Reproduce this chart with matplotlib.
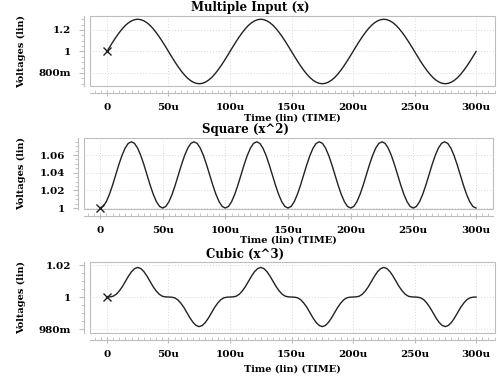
import matplotlib
matplotlib.use("Agg")
import matplotlib.pyplot as plt
from matplotlib.patches import Rectangle
from matplotlib.ticker import MultipleLocator, FixedLocator

# time samples in microseconds (every 2.5u)
time_us = [0, 2.5, 5, 7.5, 10, 12.5, 15, 17.5, 20, 22.5,
           25, 27.5, 30, 32.5, 35, 37.5, 40, 42.5, 45, 47.5,
           50, 52.5, 55, 57.5, 60, 62.5, 65, 67.5, 70, 72.5,
           75, 77.5, 80, 82.5, 85, 87.5, 90, 92.5, 95, 97.5,
           100, 102.5, 105, 107.5, 110, 112.5, 115, 117.5, 120, 122.5,
           125, 127.5, 130, 132.5, 135, 137.5, 140, 142.5, 145, 147.5,
           150, 152.5, 155, 157.5, 160, 162.5, 165, 167.5, 170, 172.5,
           175, 177.5, 180, 182.5, 185, 187.5, 190, 192.5, 195, 197.5,
           200, 202.5, 205, 207.5, 210, 212.5, 215, 217.5, 220, 222.5,
           225, 227.5, 230, 232.5, 235, 237.5, 240, 242.5, 245, 247.5,
           250, 252.5, 255, 257.5, 260, 262.5, 265, 267.5, 270, 272.5,
           275, 277.5, 280, 282.5, 285, 287.5, 290, 292.5, 295, 297.5,
           300]

# voltages
v_input = [1.000, 1.047, 1.093, 1.136, 1.176, 1.212, 1.243, 1.267, 1.285, 1.296,
           1.300, 1.296, 1.285, 1.267, 1.243, 1.212, 1.176, 1.136, 1.093, 1.047,
           1.000, 0.953, 0.907, 0.864, 0.824, 0.788, 0.757, 0.733, 0.715, 0.704,
           0.700, 0.704, 0.715, 0.733, 0.757, 0.788, 0.824, 0.864, 0.907, 0.953,
           1.000, 1.047, 1.093, 1.136, 1.176, 1.212, 1.243, 1.267, 1.285, 1.296,
           1.300, 1.296, 1.285, 1.267, 1.243, 1.212, 1.176, 1.136, 1.093, 1.047,
           1.000, 0.953, 0.907, 0.864, 0.824, 0.788, 0.757, 0.733, 0.715, 0.704,
           0.700, 0.704, 0.715, 0.733, 0.757, 0.788, 0.824, 0.864, 0.907, 0.953,
           1.000, 1.047, 1.093, 1.136, 1.176, 1.212, 1.243, 1.267, 1.285, 1.296,
           1.300, 1.296, 1.285, 1.267, 1.243, 1.212, 1.176, 1.136, 1.093, 1.047,
           1.000, 0.953, 0.907, 0.864, 0.824, 0.788, 0.757, 0.733, 0.715, 0.704,
           0.700, 0.704, 0.715, 0.733, 0.757, 0.788, 0.824, 0.864, 0.907, 0.953,
           1.000]

v_square = [1.0000, 1.0018, 1.0072, 1.0155, 1.0259, 1.0375, 1.0491, 1.0595, 1.0678, 1.0732,
            1.0750, 1.0732, 1.0678, 1.0595, 1.0491, 1.0375, 1.0259, 1.0155, 1.0072, 1.0018,
            1.0000, 1.0018, 1.0072, 1.0155, 1.0259, 1.0375, 1.0491, 1.0595, 1.0678, 1.0732,
            1.0750, 1.0732, 1.0678, 1.0595, 1.0491, 1.0375, 1.0259, 1.0155, 1.0072, 1.0018,
            1.0000, 1.0018, 1.0072, 1.0155, 1.0259, 1.0375, 1.0491, 1.0595, 1.0678, 1.0732,
            1.0750, 1.0732, 1.0678, 1.0595, 1.0491, 1.0375, 1.0259, 1.0155, 1.0072, 1.0018,
            1.0000, 1.0018, 1.0072, 1.0155, 1.0259, 1.0375, 1.0491, 1.0595, 1.0678, 1.0732,
            1.0750, 1.0732, 1.0678, 1.0595, 1.0491, 1.0375, 1.0259, 1.0155, 1.0072, 1.0018,
            1.0000, 1.0018, 1.0072, 1.0155, 1.0259, 1.0375, 1.0491, 1.0595, 1.0678, 1.0732,
            1.0750, 1.0732, 1.0678, 1.0595, 1.0491, 1.0375, 1.0259, 1.0155, 1.0072, 1.0018,
            1.0000, 1.0018, 1.0072, 1.0155, 1.0259, 1.0375, 1.0491, 1.0595, 1.0678, 1.0732,
            1.0750, 1.0732, 1.0678, 1.0595, 1.0491, 1.0375, 1.0259, 1.0155, 1.0072, 1.0018,
            1.0000]

v_cubic = [1.0000, 1.0001, 1.0005, 1.0017, 1.0038, 1.0065, 1.0098, 1.0131, 1.0159, 1.0178,
           1.0185, 1.0178, 1.0159, 1.0131, 1.0098, 1.0065, 1.0038, 1.0017, 1.0005, 1.0001,
           1.0000, 0.9999, 0.9995, 0.9983, 0.9962, 0.9935, 0.9902, 0.9869, 0.9841, 0.9822,
           0.9815, 0.9822, 0.9841, 0.9869, 0.9902, 0.9935, 0.9962, 0.9983, 0.9995, 0.9999,
           1.0000, 1.0001, 1.0005, 1.0017, 1.0038, 1.0065, 1.0098, 1.0131, 1.0159, 1.0178,
           1.0185, 1.0178, 1.0159, 1.0131, 1.0098, 1.0065, 1.0038, 1.0017, 1.0005, 1.0001,
           1.0000, 0.9999, 0.9995, 0.9983, 0.9962, 0.9935, 0.9902, 0.9869, 0.9841, 0.9822,
           0.9815, 0.9822, 0.9841, 0.9869, 0.9902, 0.9935, 0.9962, 0.9983, 0.9995, 0.9999,
           1.0000, 1.0001, 1.0005, 1.0017, 1.0038, 1.0065, 1.0098, 1.0131, 1.0159, 1.0178,
           1.0185, 1.0178, 1.0159, 1.0131, 1.0098, 1.0065, 1.0038, 1.0017, 1.0005, 1.0001,
           1.0000, 0.9999, 0.9995, 0.9983, 0.9962, 0.9935, 0.9902, 0.9869, 0.9841, 0.9822,
           0.9815, 0.9822, 0.9841, 0.9869, 0.9902, 0.9935, 0.9962, 0.9983, 0.9995, 0.9999,
           1.0000]

x_ticks = [0, 50, 100, 150, 200, 250, 300]
x_labels = ["0", "50u", "100u", "150u", "200u", "250u", "300u"]

titles = ["Multiple Input (x)", "Square (x^2)", "Cubic (x^3)"]
y_ticks = [[0.8, 1.0, 1.2], [1.0, 1.02, 1.04, 1.06], [0.98, 1.0, 1.02]]
y_labels = [["800m", "1", "1.2"], ["1", "1.02", "1.04", "1.06"], ["980m", "1", "1.02"]]
series = [v_input, v_square, v_cubic]

plt.rcParams["font.family"] = "DejaVu Serif"
plt.rcParams["font.weight"] = "bold"

W, H = 500, 380
fig = plt.figure(figsize=(5, 3.8), dpi=100)

# panel boxes in pixels: left, right, top, bottom
boxes = [(90, 495, 16, 86), (84, 493, 138, 209), (90, 495, 262, 333)]
xlims = [(-13.8, 315.4), (-12.8, 313.6), (-13.8, 315.4)]
ylims = [(0.679, 1.330), (0.9989, 1.0793), (0.9775, 1.0219)]
y_minor = [0.05, 0.005, 0.005]
title_pos = [(250, 8), (245, 130), (245, 254)]
xlabel_y = [118, 240, 369]

gray = "#bdbdbd"
for i in range(3):
    l, r, t, b = boxes[i]
    ax = fig.add_axes([l / W, 1 - b / H, (r - l) / W, (b - t) / H])
    ax.plot(time_us, series[i], color="#222222", lw=1.0)
    # start marker
    ax.plot([time_us[0]], [series[i][0]], marker="x", color="#222222",
            markersize=6, mew=1.0, linestyle="none", clip_on=False)
    ax.set_xlim(*xlims[i])
    ax.set_ylim(*ylims[i])

    ax.set_xticks(x_ticks)
    ax.set_xticklabels(x_labels)
    ax.xaxis.set_minor_locator(MultipleLocator(5))
    ax.yaxis.set_major_locator(FixedLocator(y_ticks[i]))
    ax.set_yticklabels(y_labels[i])
    ax.yaxis.set_minor_locator(MultipleLocator(y_minor[i]))

    ax.grid(True, which="major", color="#d8d8d8", linestyle=(0, (1, 2)), lw=0.7)

    for side in ["top", "right"]:
        ax.spines[side].set_visible(False)
    ax.spines["bottom"].set_position(("outward", 5))
    ax.spines["left"].set_position(("outward", 4))
    for side in ["bottom", "left"]:
        ax.spines[side].set_color(gray)
        ax.spines[side].set_linewidth(0.8)
    ax.add_patch(Rectangle((0, 0), 1, 1, transform=ax.transAxes, fill=False,
                           edgecolor=gray, lw=0.8, clip_on=False))

    ax.tick_params(axis="x", which="major", direction="inout", length=5,
                   color=gray, pad=5, labelsize=7.5)
    ax.tick_params(axis="x", which="minor", direction="in", length=2.5, color=gray)
    ax.tick_params(axis="y", which="major", direction="out", length=3.5,
                   color=gray, pad=6, labelsize=7.5)
    ax.tick_params(axis="y", which="minor", direction="out", length=2, color=gray)

    fig.text(title_pos[i][0] / W, 1 - title_pos[i][1] / H, titles[i],
             ha="center", va="center", fontsize=8.5, fontweight="bold")
    fig.text((l + r) / 2 / W, 1 - xlabel_y[i] / H, "Time (lin) (TIME)",
             ha="center", va="center", fontsize=7, fontweight="bold")
    fig.text(22 / W, 1 - (t + b) / 2 / H, "Voltages (lin)", rotation=90,
             ha="center", va="center", fontsize=7, fontweight="bold")

fig.savefig("out.png", dpi=100)
